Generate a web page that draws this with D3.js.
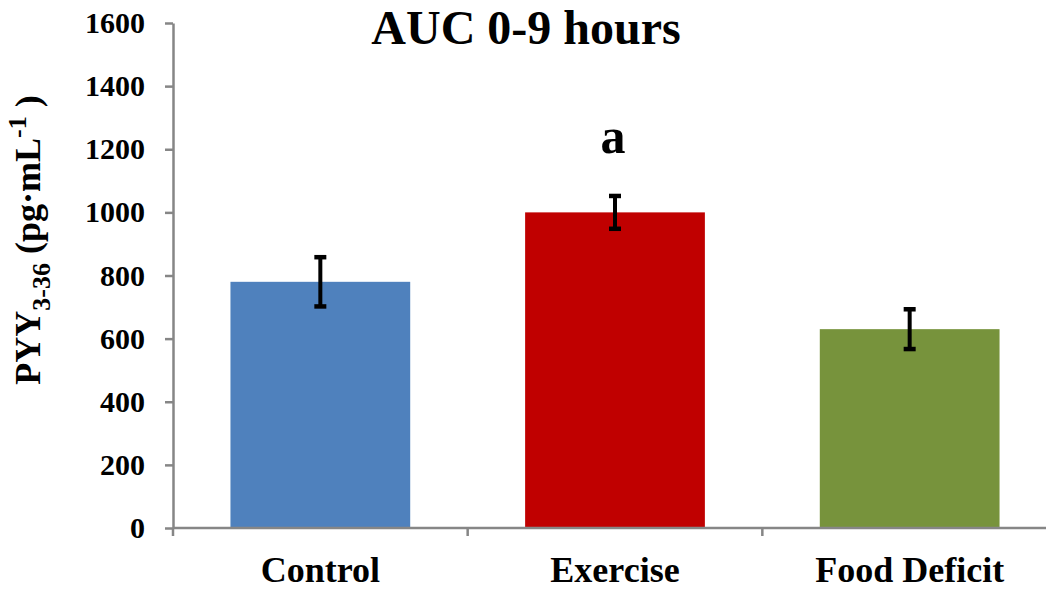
<!DOCTYPE html>
<html><head><meta charset="utf-8">
<script src="https://cdn.jsdelivr.net/npm/d3@7"></script>
<style>body{margin:0;background:#fff}svg{display:block}text{font-family:"Liberation Serif","DejaVu Serif",serif;font-weight:bold}</style>
</head><body><svg id="c" width="1046" height="591"></svg>
<script>
const categories = ["Control","Exercise","Food Deficit"];
const values = [780,1000,630];
const errors = [78,52,63];
const colors = ["#4F81BD","#C00000","#77933C"];
const yTicks = [0,200,400,600,800,1000,1200,1400,1600];
const sigLabels = ["","a",""];
const title = "AUC 0-9 hours";

(function(){
const svg = d3.select("#c");
const L=173, R=1057, T=23, B=528;
const x = d3.scaleBand().domain(categories).range([L,R]).paddingInner(0.39).paddingOuter(0.195);
const y = d3.scaleLinear().domain([0,1600]).range([B,T]);
const axisColor="#868686";

const ya = svg.append("g").attr("transform",`translate(${L},0)`)
  .call(d3.axisLeft(y).tickValues(yTicks).tickFormat(d3.format("d")).tickSize(8).tickSizeOuter(0).tickPadding(20));
ya.select(".domain").attr("stroke",axisColor).attr("stroke-width",2.5);
ya.selectAll(".tick line").attr("stroke",axisColor).attr("stroke-width",2.5);
ya.selectAll(".tick text").attr("fill","#000").style("font-size","30px").style("font-family",'"Liberation Serif",serif').style("font-weight","bold");

svg.selectAll("rect.bar").data(categories).join("rect").attr("class","bar")
  .attr("x",d=>x(d)).attr("width",x.bandwidth())
  .attr("y",(d,i)=>y(values[i])).attr("height",(d,i)=>B-y(values[i]))
  .attr("fill",(d,i)=>colors[i]);

const bounds = d3.range(categories.length+1).map(i=>L+i*((R-L)/categories.length));
svg.append("line").attr("x1",L).attr("x2",R).attr("y1",B).attr("y2",B).attr("stroke",axisColor).attr("stroke-width",2.5);
svg.selectAll("line.xt").data(bounds).join("line").attr("class","xt")
  .attr("x1",d=>d).attr("x2",d=>d).attr("y1",B).attr("y2",B+8).attr("stroke",axisColor).attr("stroke-width",2.5);
svg.selectAll("text.cat").data(categories).join("text").attr("class","cat")
  .attr("x",d=>x(d)+x.bandwidth()/2).attr("y",582).attr("text-anchor","middle")
  .style("font-size","36px").text(d=>d);

const eb = svg.selectAll("g.eb").data(categories).join("g").attr("class","eb");
eb.append("line").attr("x1",d=>x(d)+x.bandwidth()/2).attr("x2",d=>x(d)+x.bandwidth()/2)
  .attr("y1",(d,i)=>y(values[i]+errors[i])).attr("y2",(d,i)=>y(values[i]-errors[i]))
  .attr("stroke","#000").attr("stroke-width",4);
[1,-1].forEach(s=>{
  eb.append("line").attr("x1",d=>x(d)+x.bandwidth()/2-6).attr("x2",d=>x(d)+x.bandwidth()/2+6)
    .attr("y1",(d,i)=>y(values[i]+s*errors[i])).attr("y2",(d,i)=>y(values[i]+s*errors[i]))
    .attr("stroke","#000").attr("stroke-width",4.5);
});

svg.selectAll("text.sig").data(categories).join("text").attr("class","sig")
  .attr("x",d=>x(d)+x.bandwidth()/2-2).attr("y",153).attr("text-anchor","middle")
  .style("font-size","50px").text((d,i)=>sigLabels[i]);

svg.append("text").attr("x",526).attr("y",44).attr("text-anchor","middle").style("font-size","48px").text(title);

const yl = svg.append("text").attr("transform",`translate(40,240) rotate(-90)`).attr("text-anchor","middle").style("font-size","36px");
yl.append("tspan").text("PYY");
yl.append("tspan").attr("dy",10).style("font-size","26px").text("3-36");
yl.append("tspan").attr("dy",-10).text(" (pg\u00B7mL");
yl.append("tspan").attr("dy",-14).style("font-size","26px").text("-1");
yl.append("tspan").attr("dy",14).text(" )");
})();
</script></body></html>
